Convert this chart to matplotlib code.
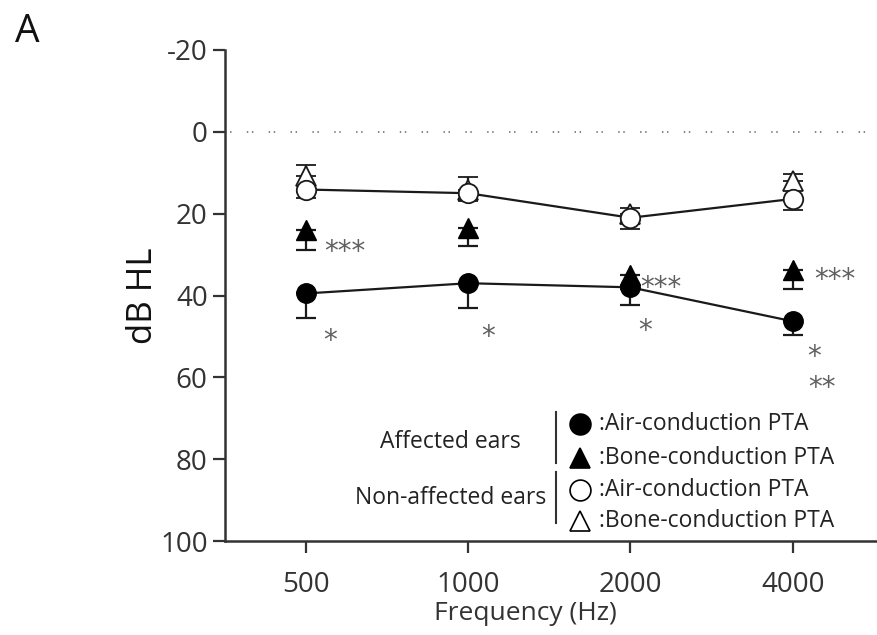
import matplotlib
matplotlib.use("Agg")
import matplotlib.pyplot as plt
import matplotlib.transforms as mtransforms

plt.rcParams['font.family'] = ['Open Sans', 'DejaVu Sans']
plt.rcParams['axes.unicode_minus'] = False

# ---- data ----
frequencies = ["500", "1000", "2000", "4000"]
aff_air = [39.5, 37.0, 38.0, 46.3]
aff_air_sd = [6.0, 6.0, 4.4, 3.4]
aff_bone = [24.0, 23.5, 35.0, 33.7]
aff_bone_sd = [5.0, 4.3, 3.5, 4.7]
non_air = [14.1, 15.0, 21.0, 16.4]
non_air_sd = [2.0, 2.0, 2.7, 2.6]
non_bone = [10.9, 14.1, 20.2, 12.1]
non_bone_sd = [2.7, 3.0, 1.7, 1.9]
yticks = [-20, 0, 20, 40, 60, 80, 100]

# significance marks: (x index, dB, text)
sig_marks = [
    (0.24, 27.7, "***"), (0.15, 49.3, "*"),
    (1.12, 48.3, "*"),
    (2.19, 36.5, "***"), (2.09, 46.8, "*"),
    (3.26, 34.5, "***"), (3.13, 53.2, "*"), (3.18, 60.9, "**"),
]

W, H = 877, 635
fig = plt.figure(figsize=(W / 100, H / 100), dpi=100)
ax_l, ax_r, ax_t, ax_b = 225, 877, 50, 541
ax = fig.add_axes([ax_l / W, (H - ax_b) / H, (ax_r - ax_l) / W, (ax_b - ax_t) / H])

x = list(range(len(frequencies)))
dark = '#1a1a1a'
ms = 14
cap = 7

ax.axhline(0, color='#7a7a7a', lw=1.3, linestyle=(0, (0.8, 2.0, 0.8, 8.5)), zorder=1)

# lines connecting air conduction means
ax.plot(x, aff_air, color=dark, lw=1.6, zorder=2)
ax.plot(x, non_air, color=dark, lw=1.6, zorder=2)

zero = [0] * len(x)
# non-affected bone (open triangle, error up)
ax.errorbar(x, non_bone, yerr=[non_bone_sd, zero], fmt='^', ms=ms, mfc='white', mec=dark,
            mew=1.3, ecolor=dark, elinewidth=1.6, capsize=cap, capthick=1.6, zorder=3)
# non-affected air (open circle, error down)
ax.errorbar(x, non_air, yerr=[zero, non_air_sd], fmt='o', ms=ms, mfc='white', mec=dark,
            mew=1.3, ecolor=dark, elinewidth=1.6, capsize=cap, capthick=1.6, zorder=3)
# affected bone (filled triangle, error down)
ax.errorbar(x, aff_bone, yerr=[zero, aff_bone_sd], fmt='^', ms=ms, mfc='black', mec='black',
            ecolor=dark, elinewidth=1.6, capsize=cap, capthick=1.6, zorder=4)
# affected air (filled circle, error down)
ax.errorbar(x, aff_air, yerr=[zero, aff_air_sd], fmt='o', ms=ms, mfc='black', mec='black',
            ecolor=dark, elinewidth=1.6, capsize=cap, capthick=1.6, zorder=5)

# significance asterisks
star_tr = mtransforms.offset_copy(ax.transData, fig=fig, y=-11.0, units='points')
for sx, sy, st in sig_marks:
    ax.text(sx, sy, st, transform=star_tr, ha='center', va='baseline', fontsize=20,
            color='#606060', family='DejaVu Sans')

ax.set_xlim(-0.5, 3.52)
ax.set_ylim(100, -20)
ax.set_xticks(x)
ax.set_xticklabels(frequencies)
ax.set_yticks(yticks)
ax.tick_params(axis='both', labelsize=20, width=1.6, length=8.5, color='#333333',
               labelcolor='#333333')
ax.tick_params(axis='x', pad=13)
ax.tick_params(axis='y', pad=4)
for s in ['top', 'right']:
    ax.spines[s].set_visible(False)
for s in ['left', 'bottom']:
    ax.spines[s].set_linewidth(1.8)
    ax.spines[s].set_color('#333333')

ax.set_xlabel('Frequency (Hz)', fontsize=19, color='#333333')
ax.xaxis.set_label_coords((525 - ax_l) / (ax_r - ax_l), (ax_b - 601) / (ax_b - ax_t))
ax.set_ylabel('dB HL', fontsize=25, color='#111111')
ax.yaxis.set_label_coords((160 - ax_l) / (ax_r - ax_l), (ax_b - 296) / (ax_b - ax_t))

# legend built from pieces (pixel -> axes fraction)
def af(px, py):
    return ((px - ax_l) / (ax_r - ax_l), (ax_b - py) / (ax_b - ax_t))

leg_fs = 16.5
for (py, mk, fc) in [(424, 'o', 'black'), (458, '^', 'black'), (490, 'o', 'white'), (521, '^', 'white')]:
    mx, my = af(580, py)
    ax.plot([mx], [my], marker=mk, ms=15, mfc=fc, mec='black', mew=1.2,
            transform=ax.transAxes, clip_on=False, zorder=6)
for py, txt in [(424, "Air-conduction PTA"), (458, "Bone-conduction PTA"),
                (490, "Air-conduction PTA"), (521, "Bone-conduction PTA")]:
    tx, ty = af(599, py)
    ax.text(tx, ty, ":" + txt, transform=ax.transAxes, fontsize=leg_fs, va='center', ha='left',
            color='#222222')
tx, ty = af(450, 442)
ax.text(tx, ty, "Affected ears", transform=ax.transAxes, fontsize=leg_fs, ha='center', va='center',
        color='#222222')
tx, ty = af(451, 498)
ax.text(tx, ty, "Non-affected ears", transform=ax.transAxes, fontsize=leg_fs, ha='center',
        va='center', color='#222222')
for y0, y1 in [(412, 463), (472, 523)]:
    a = af(556, y0)
    b = af(556, y1)
    ax.plot([a[0], b[0]], [a[1], b[1]], color='#333333', lw=1.5, transform=ax.transAxes, clip_on=False)

fig.text(27 / W, 1 - 32 / H, "A", fontsize=28, ha='center', va='center', color='#111111')

fig.savefig('out.png', dpi=100)
